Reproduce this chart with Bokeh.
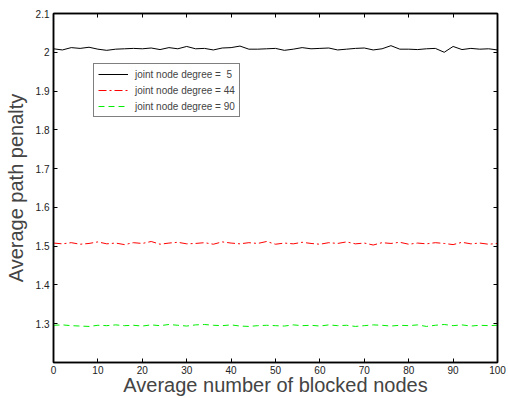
from bokeh.plotting import figure
from bokeh.models import LinearAxis, Range1d, FixedTicker, Legend, LegendItem
from bokeh.embed import file_html
from bokeh.resources import INLINE

x_vals = list(range(0, 101, 2))
deg5 = [2.009, 2.006, 2.012, 2.010, 2.013, 2.008, 2.005, 2.008, 2.009, 2.010,
        2.009, 2.011, 2.007, 2.012, 2.009, 2.015, 2.009, 2.010, 2.006, 2.011,
        2.012, 2.016, 2.008, 2.008, 2.009, 2.010, 2.005, 2.008, 2.012, 2.009,
        2.010, 2.011, 2.006, 2.008, 2.010, 2.011, 2.006, 2.009, 2.017, 2.008,
        2.008, 2.007, 2.009, 2.010, 2.000, 2.015, 2.007, 2.010, 2.008, 2.009, 2.006]
deg44 = [1.508, 1.506, 1.509, 1.505, 1.507, 1.511, 1.506, 1.508, 1.504, 1.509,
         1.507, 1.512, 1.505, 1.508, 1.510, 1.506, 1.507, 1.509, 1.505, 1.511,
         1.508, 1.506, 1.509, 1.507, 1.512, 1.505, 1.508, 1.506, 1.510, 1.507,
         1.505, 1.509, 1.507, 1.511, 1.506, 1.508, 1.503, 1.509, 1.507, 1.510,
         1.505, 1.508, 1.506, 1.509, 1.507, 1.504, 1.510, 1.506, 1.508, 1.505, 1.507]
deg90 = [1.296, 1.297, 1.295, 1.294, 1.293, 1.296, 1.295, 1.297, 1.295, 1.296,
         1.294, 1.297, 1.295, 1.298, 1.296, 1.294, 1.297, 1.298, 1.296, 1.295,
         1.297, 1.294, 1.293, 1.295, 1.296, 1.295, 1.294, 1.297, 1.295, 1.296,
         1.294, 1.297, 1.295, 1.296, 1.293, 1.295, 1.297, 1.296, 1.294, 1.296,
         1.295, 1.297, 1.293, 1.296, 1.298, 1.295, 1.297, 1.294, 1.296, 1.295, 1.296]
labels = ["joint node degree =  5", "joint node degree = 44", "joint node degree = 90"]
x_ticks = [0, 10, 20, 30, 40, 50, 60, 70, 80, 90, 100]
y_ticks = [1.3, 1.4, 1.5, 1.6, 1.7, 1.8, 1.9, 2.0, 2.1]
y_tick_text = {1.3: "1.3", 1.4: "1.4", 1.5: "1.5", 1.6: "1.6", 1.7: "1.7",
               1.8: "1.8", 1.9: "1.9", 2.0: "2", 2.1: "2.1"}

FONT = "Liberation Sans"

p = figure(width=508, height=398, output_backend="svg", toolbar_location=None,
           x_range=Range1d(0, 100), y_range=Range1d(1.2, 2.1),
           min_border_left=53, min_border_right=11, min_border_top=13, min_border_bottom=35)
p.xgrid.visible = False
p.ygrid.visible = False
p.outline_line_color = "black"
p.outline_line_width = 1.5

r1 = p.line(x_vals, deg5, line_color="black", line_width=1)
r2 = p.line(x_vals, deg44, line_color="red", line_width=1, line_dash="8 3 2 3")
r3 = p.line(x_vals, deg90, line_color="#00ee00", line_width=1, line_dash="6 4")

for ax in [p.xaxis[0], p.yaxis[0]]:
    ax.major_tick_in = 4
    ax.major_tick_out = 0
    ax.minor_tick_in = 0
    ax.minor_tick_out = 0
    ax.axis_line_width = 1.5
    ax.major_label_text_font = FONT
    ax.major_label_text_font_size = "10px"
    ax.major_label_text_color = "#222222"
    ax.axis_label_text_font = FONT
    ax.axis_label_text_font_style = "normal"
    ax.axis_label_text_font_size = "20px"

p.xaxis[0].ticker = FixedTicker(ticks=x_ticks)
p.yaxis[0].ticker = FixedTicker(ticks=y_ticks)
p.yaxis[0].major_label_overrides = y_tick_text
p.xaxis[0].axis_label = "Average number of blocked nodes"
p.yaxis[0].axis_label = "Average path penalty"
p.xaxis[0].major_label_standoff = 3
p.xaxis[0].axis_label_standoff = -3
p.yaxis[0].major_label_standoff = 4
p.yaxis[0].axis_label_standoff = 6

top = LinearAxis(ticker=FixedTicker(ticks=x_ticks), major_tick_in=4, major_tick_out=0,
                 minor_tick_in=0, minor_tick_out=0, major_label_text_font_size="0px",
                 major_label_text_color=None, axis_line_width=1.5)
right = LinearAxis(ticker=FixedTicker(ticks=y_ticks), major_tick_in=4, major_tick_out=0,
                   minor_tick_in=0, minor_tick_out=0, major_label_text_font_size="0px",
                   major_label_text_color=None, axis_line_width=1.5)
p.add_layout(top, "above")
p.add_layout(right, "right")

legend = Legend(items=[LegendItem(label=labels[0], renderers=[r1]),
                       LegendItem(label=labels[1], renderers=[r2]),
                       LegendItem(label=labels[2], renderers=[r3])],
                location=(40, 245))
legend.border_line_color = "black"
legend.border_line_width = 1
legend.label_text_font = FONT
legend.label_text_font_size = "10px"
legend.glyph_width = 30
legend.glyph_height = 12
legend.label_height = 12
legend.spacing = 4
legend.padding = 4
legend.margin = 0
legend.label_standoff = 7
legend.background_fill_alpha = 1
p.add_layout(legend, "center")

open("out.html", "w").write(file_html(p, INLINE))
